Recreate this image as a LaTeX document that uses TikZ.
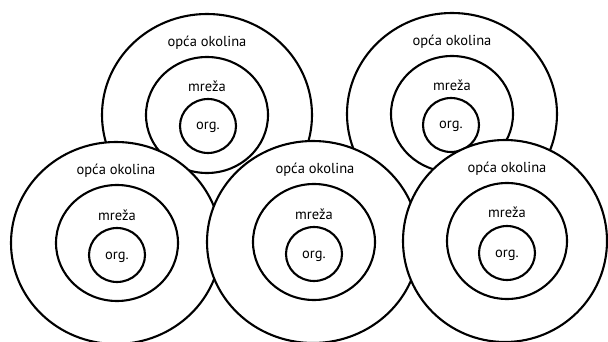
\documentclass[tikz,border=0pt]{standalone}
\usepackage{fontspec}
\setmainfont{PT Sans}

\tikzset{
  ring/.style={line width=2.1pt},
  lbl/.style={anchor=base, inner sep=0pt, font=\fontsize{14.5}{17}\selectfont},
}

\begin{document}
\begin{tikzpicture}[x=1pt,y=-1pt]

\useasboundingbox (0,0) rectangle (608,342);
\clip (0,0) rectangle (608,342);

% Haut gauche
\draw[ring] (207,115) ellipse [x radius=105pt, y radius=101pt];
\draw[ring] (207,115) ellipse [x radius=61pt, y radius=58pt];
\draw[ring] (208,126) ellipse [x radius=28pt, y radius=27pt];
\node[lbl] (env1) at (207,47) {opća okolina};
\node[lbl] (net1) at (207,92) {mreža};
\node[lbl] (org1) at (208,130) {org.};

% Haut droite
\draw[ring] (452,114) ellipse [x radius=105pt, y radius=101pt];
\draw[ring] (452,114) ellipse [x radius=61pt, y radius=58pt];
\draw[ring] (451,125) ellipse [x radius=28pt, y radius=27pt];
\node[lbl] (env2) at (452,46) {opća okolina};
\node[lbl] (net2) at (452,91) {mreža};
\node[lbl] (org2) at (451,129) {org.};

% Bas gauche
\draw[ring,fill=white] (116,243) ellipse [x radius=105pt, y radius=101pt];
\draw[ring] (117,243) ellipse [x radius=61pt, y radius=58pt];
\draw[ring] (117,255) ellipse [x radius=28pt, y radius=27pt];
\node[lbl] (env3) at (116,175) {opća okolina};
\node[lbl] (net3) at (117,220) {mreža};
\node[lbl] (org3) at (117,259) {org.};

% Bas milieu
\draw[ring,fill=white] (313,242) ellipse [x radius=106pt, y radius=101pt];
\draw[ring] (314,242) ellipse [x radius=61pt, y radius=58pt];
\draw[ring] (314,254) ellipse [x radius=28pt, y radius=27pt];
\node[lbl] (env4) at (315,174) {opća okolina};
\node[lbl] (net4) at (314,219) {mreža};
\node[lbl] (org4) at (314,258) {org.};

% Bas droite
\draw[ring,fill=white] (505,241) ellipse [x radius=102pt, y radius=101pt];
\draw[ring] (507,241) ellipse [x radius=60pt, y radius=58pt];
\draw[ring] (507,253) ellipse [x radius=28pt, y radius=27pt];
\node[lbl] (env5) at (507,173) {opća okolina};
\node[lbl] (net5) at (507,218) {mreža};
\node[lbl] (org5) at (507,257) {org.};

\end{tikzpicture}
\end{document}
